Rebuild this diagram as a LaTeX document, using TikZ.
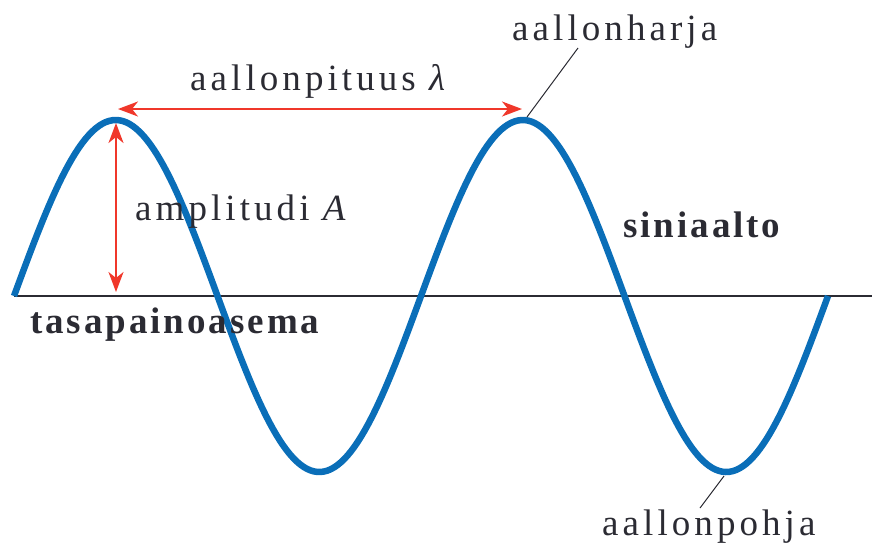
\documentclass[tikz,border=0pt]{standalone}
\usepackage{fontspec}
\setmainfont{Liberation Serif}[LetterSpace=11,BoldFeatures={LetterSpace=8}]
\usetikzlibrary{arrows.meta}
\definecolor{waveblue}{HTML}{0A6EB8}
\definecolor{arrowred}{HTML}{F0372A}
\definecolor{ink}{HTML}{2B2B33}

\begin{document}
\begin{tikzpicture}[x=1pt,y=-1pt,
    wave/.style={waveblue,line width=6.5pt},
    dimarrow/.style={arrowred,line width=2pt,{Stealth[length=20pt,width=15pt,inset=6pt]}-{Stealth[length=20pt,width=15pt,inset=6pt]}},
    leader/.style={ink,line width=1pt},
    lbl/.style={ink,inner sep=0pt,anchor=base west,font=\fontsize{37}{40}\selectfont},
    boldlbl/.style={lbl,font=\fontsize{37}{40}\selectfont\bfseries}]
  \useasboundingbox (0,0) rectangle (872,547);
  % equilibrium line
  \coordinate (left) at (14,296);
  \coordinate (right) at (872,296);
  \draw[ink,line width=2.5pt] (left) -- (right);
  % the sine wave, two periods, quarter period 101.75
  \draw[wave] plot[domain=0:720,samples=240] ({14+\x/90*101.75},{296-176*sin(\x)});
  % amplitude and wavelength
  \coordinate (ampTop) at (116,123);
  \coordinate (ampBot) at (116,292);
  \coordinate (lamL) at (118,109);
  \coordinate (lamR) at (522,109);
  \draw[dimarrow] (ampTop) -- (ampBot);
  \draw[dimarrow] (lamL) -- (lamR);
  % labels
  \node[lbl] (lambda) at (190,90) {aallonpituus \textit{λ}};
  \node[lbl] (amp) at (135,220) {amplitudi \textit{A}};
  \node[boldlbl] (sini) at (623,237) {siniaalto};
  \node[boldlbl] (tasa) at (30,333) {tasapainoasema};
  \node[lbl] (harja) at (512,40) {aallonharja};
  \node[lbl] (pohja) at (602,535) {aallonpohja};
  % leaders
  \coordinate (crest) at (527,117);
  \coordinate (harjaEnd) at (578,48);
  \coordinate (trough) at (724,476);
  \coordinate (pohjaEnd) at (700,508);
  \draw[leader] (crest) -- (harjaEnd);
  \draw[leader] (trough) -- (pohjaEnd);
\end{tikzpicture}
\end{document}
